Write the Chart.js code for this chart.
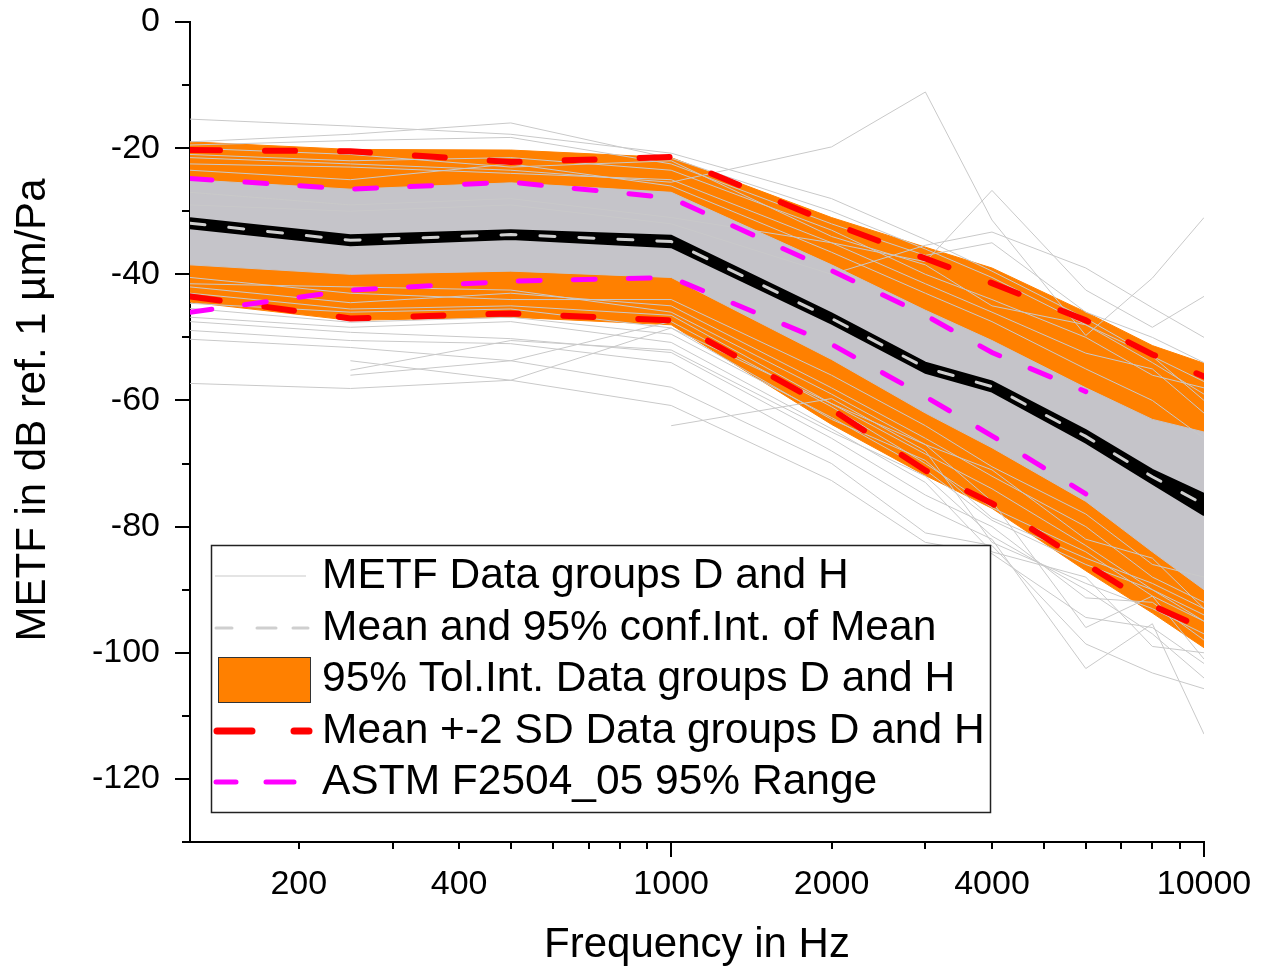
<!DOCTYPE html>
<html>
<head>
<meta charset="utf-8">
<title>METF Data groups D and H</title>
<script src="https://cdn.jsdelivr.net/npm/chart.js@4.4.1/dist/chart.umd.min.js"></script>
<style>
  html, body { margin: 0; padding: 0; background: #fff; }
  #wrap { position: relative; width: 1261px; height: 966px; }
</style>
</head>
<body>
<div id="wrap"><canvas id="metf-chart"></canvas></div>
<script>
// frequency bands (Hz)
const freqs = [125, 250, 500, 1000, 2000, 3000, 4000, 6000, 8000, 10000];

// mean and 95% confidence interval of the mean (dB)
const meanValues = [-31.9, -34.6, -33.7, -34.8, -47.0, -54.8, -57.8, -65.7, -72.1, -76.5];
const ciUpper    = [-31.1, -33.8, -33.0, -33.9, -46.2, -54.0, -57.0, -64.7, -71.0, -74.8];
const ciLower    = [-32.7, -35.4, -34.4, -35.7, -47.8, -55.6, -58.6, -66.7, -73.2, -78.2];

// 95% tolerance interval
const tolUpper = [-19.0, -20.2, -20.3, -21.5, -31.0, -35.7, -39.0, -46.0, -51.3, -54.1];
const tolLower = [-44.4, -47.3, -46.8, -48.0, -63.8, -71.9, -77.1, -87.0, -93.7, -99.2];

// mean +-2 SD
const sdUpper = [-20.3, -20.5, -22.2, -21.4, -31.9, -37.5, -41.4, -47.3, -52.7, -56.2];
const sdLower = [-43.5, -47.0, -46.2, -47.3, -61.4, -71.1, -76.3, -85.9, -92.5, -96.2];

// ASTM F2504-05 95% range (ends at 6 kHz)
const astmUpper = [-24.8, -26.5, -25.4, -27.9, -39.4, -46.5, -52.4, -58.6, null, null];
const astmLower = [-46.0, -42.5, -41.1, -40.5, -51.1, -59.4, -65.6, -74.8, null, null];

// where the individual curves are so dense they merge into one grey area
const denseUpper = [-25.0, -26.5, -25.5, -27.0, -38.5, -45.7, -50.5, -58.0, -63.0, -65.0];
const denseLower = [-38.5, -40.0, -39.5, -40.5, -53.5, -62.0, -67.5, -76.0, -84.0, -90.0];

// individual METF curves that can be told apart
const metfCurves = [
  [-15.4, -16.5, -17.8, -20.8, -28.0, -34.5, -39.5, -47.0, -53.0, -57.0],
  [-19.0, -17.8, -16.0, -21.6, -30.0, -36.0, -40.5, -48.0, -54.0, -59.0],
  [-19.5, -18.8, -18.3, -22.5, -32.0, -37.0, -35.0, -46.0, -50.0, -54.0],
  [-21.5, -22.5, -23.5, -25.4, -19.8, -11.1, -31.4, -49.7, -40.6, -31.0],
  [-27.0, -29.0, -28.0, -31.0, -35.0, -38.0, -26.7, -42.5, -48.4, -43.5],
  [-29.0, -30.0, -29.0, -32.0, -40.0, -35.4, -33.3, -39.0, -45.3, -50.0],
  [-21.0, -22.0, -21.5, -23.5, -33.0, -40.0, -44.0, -50.0, -56.0, -58.0],
  [-22.5, -23.0, -24.0, -25.0, -35.0, -41.5, -46.0, -52.5, -55.0, -62.0],
  [-23.5, -25.0, -22.5, -26.0, -36.5, -43.0, -47.5, -55.0, -60.0, -66.0],
  [-20.0, -21.0, -23.0, -22.0, -34.0, -38.5, -45.0, -48.0, -53.0, -60.0],
  [-42.0, -44.5, -43.0, -45.0, -58.0, -66.0, -72.0, -80.0, -88.0, -92.0],
  [-43.0, -45.5, -45.0, -46.5, -60.5, -68.5, -74.0, -83.0, -90.0, -95.0],
  [-40.5, -43.0, -44.0, -44.0, -56.0, -64.0, -70.5, -78.0, -86.0, -88.0],
  [-41.5, -42.0, -42.5, -46.0, -59.0, -67.0, -71.0, -82.0, -85.0, -93.0],
  [-57.3, -58.1, -56.8, -60.8, -72.7, -82.5, -84.3, -94.4, -96.0, -101.7],
  [-50.3, -51.6, -53.7, -57.9, -70.0, -81.0, -83.0, -98.6, -103.2, -105.7],
  [-48.9, -50.5, -51.0, -54.0, -68.0, -77.0, -82.0, -102.5, -95.4, -112.9],
  [-47.5, -49.2, -50.2, -52.4, -66.0, -75.0, -80.0, -91.3, -92.0, -98.0],
  [-46.8, -48.4, -47.5, -50.8, -64.5, -73.0, -84.0, -88.0, -99.0, -100.0],
  [-45.4, -47.6, -46.8, -49.5, -62.7, -71.0, -79.0, -86.0, -90.0, -94.0],
  [-44.6, -46.0, -45.5, -48.5, -60.5, -67.0, -76.0, -96.0, -91.0, -101.0],
  [null, -53.7, -56.8, -48.5, -63.0, -69.5, -78.6, -85.0, -89.0, -93.0],
  [null, -55.2, -50.5, -52.0, -65.0, -72.0, -81.5, -90.0, -97.0, -104.0],
  [null, -56.0, -53.7, -47.5, -61.0, -70.0, -77.0, -84.0, -91.0, -95.0],
  [null, null, null, -64.0, -59.7, -68.0, -82.5, -89.0, -93.0, -97.0],
];

// axes
const xTickValues = [200, 300, 400, 500, 600, 700, 800, 900, 1000, 2000, 3000, 4000, 5000, 6000, 7000, 8000, 9000, 10000];
const xTickLabels = [200, 400, 1000, 2000, 4000, 10000];
const xMajorTicks = [1000, 10000];
const yMin = -130;
const yMax = 0;

const xTitle = 'Frequency in Hz';
const yTitle = 'METF in dB ref. 1 µm/Pa';
const legendLabels = [
  'METF Data groups D and H',
  'Mean and 95% conf.Int. of Mean',
  '95% Tol.Int. Data groups D and H',
  'Mean +-2 SD Data groups D and H',
  'ASTM F2504_05 95% Range',
];

const FONT = "'Liberation Sans', Arial, sans-serif";
const GREY_LINE = '#c9c9c9';
const DENSE_GREY = '#c5c4c9';
const ORANGE = '#ff8000';
const RED = '#ff0000';
const MAGENTA = '#ff00ff';

const pts = (vals) => freqs.map((f, i) => ({ x: f, y: vals[i] }));

const datasets = [];
function add(ds) {
  datasets.push(Object.assign({ pointRadius: 0, tension: 0, fill: false, spanGaps: false }, ds));
  return datasets.length - 1;
}

// lower "order" is drawn on top
add({ label: 'mean', data: pts(meanValues), borderColor: '#cfcfcf', borderWidth: 3,
      borderDash: [15, 24], borderCapStyle: 'round', order: 0 });
const ciLowIdx = add({ label: 'ci lower', data: pts(ciLower), borderColor: '#000', borderWidth: 2, order: 1 });
add({ label: 'ci upper', data: pts(ciUpper), borderColor: '#000', borderWidth: 2,
      backgroundColor: '#000', fill: ciLowIdx, order: 1 });
add({ label: 'astm upper', data: pts(astmUpper), borderColor: MAGENTA, borderWidth: 5,
      borderDash: [22, 33], borderCapStyle: 'round', order: 2 });
add({ label: 'astm lower', data: pts(astmLower), borderColor: MAGENTA, borderWidth: 5,
      borderDash: [22, 33], borderCapStyle: 'round', order: 2 });
add({ label: 'sd upper', data: pts(sdUpper), borderColor: RED, borderWidth: 6,
      borderDash: [30, 45], borderCapStyle: 'round', order: 3 });
add({ label: 'sd lower', data: pts(sdLower), borderColor: RED, borderWidth: 6,
      borderDash: [30, 45], borderCapStyle: 'round', order: 3 });
metfCurves.forEach((c, i) => {
  add({ label: 'metf ' + i, data: pts(c), borderColor: GREY_LINE, borderWidth: 1, order: 4 });
});
const denseLowIdx = add({ label: 'dense lower', data: pts(denseLower), borderColor: DENSE_GREY, borderWidth: 1, order: 5 });
add({ label: 'dense upper', data: pts(denseUpper), borderColor: DENSE_GREY, borderWidth: 1,
      backgroundColor: DENSE_GREY, fill: denseLowIdx, order: 5 });
const tolLowIdx = add({ label: 'tol lower', data: pts(tolLower), borderColor: ORANGE, borderWidth: 1, order: 6 });
add({ label: 'tol upper', data: pts(tolUpper), borderColor: ORANGE, borderWidth: 1,
      backgroundColor: ORANGE, fill: tolLowIdx, order: 6 });

// tick marks of two lengths and the axis titles
const axisDecor = {
  id: 'axisDecor',
  afterDraw(chart) {
    const { ctx, chartArea: a, scales: { x, y } } = chart;
    ctx.save();
    ctx.strokeStyle = '#000';
    ctx.lineWidth = 2;
    ctx.beginPath();
    xTickValues.forEach((v) => {
      const px = Math.round(x.getPixelForValue(v));
      const len = xMajorTicks.includes(v) ? 15 : 7;
      ctx.moveTo(px, a.bottom);
      ctx.lineTo(px, a.bottom + len);
    });
    for (let v = yMin; v <= yMax; v += 10) {
      const py = Math.round(y.getPixelForValue(v));
      const len = v % 20 === 0 ? 15 : 8;
      ctx.moveTo(a.left - len, py);
      ctx.lineTo(a.left, py);
    }
    ctx.stroke();

    ctx.fillStyle = '#000';
    ctx.font = '42px ' + FONT;
    ctx.textAlign = 'center';
    ctx.textBaseline = 'middle';
    ctx.fillText(xTitle, (a.left + a.right) / 2, 945);
    ctx.translate(33, 410);
    ctx.rotate(-Math.PI / 2);
    ctx.fillText(yTitle, 0, 0);
    ctx.restore();
  },
};

// boxed legend inside the plot
const boxLegend = {
  id: 'boxLegend',
  afterDraw(chart) {
    const ctx = chart.ctx;
    const left = 211, top = 545, w = 779, h = 267;
    const rows = [576, 628, 679, 731, 782];
    ctx.save();
    ctx.fillStyle = '#fff';
    ctx.fillRect(left, top, w, h);
    ctx.strokeStyle = '#222';
    ctx.lineWidth = 1.5;
    ctx.strokeRect(left + 0.5, top + 0.5, w, h);

    const seg = (color, width, cap, parts, yy) => {
      ctx.strokeStyle = color;
      ctx.lineWidth = width;
      ctx.lineCap = cap;
      ctx.beginPath();
      parts.forEach(([x0, x1]) => { ctx.moveTo(x0, yy); ctx.lineTo(x1, yy); });
      ctx.stroke();
    };
    seg(GREY_LINE, 1, 'butt', [[215, 306]], rows[0]);
    seg('#cfcfcf', 3, 'round', [[216, 232], [257, 276], [293, 308]], rows[1]);
    ctx.fillStyle = ORANGE;
    ctx.fillRect(218, 657, 93, 46);
    ctx.strokeStyle = '#333';
    ctx.lineWidth = 1;
    ctx.strokeRect(218.5, 657.5, 92, 45);
    seg(RED, 7, 'round', [[217, 252], [294, 309]], rows[3]);
    seg(MAGENTA, 5, 'round', [[216, 236], [266, 294]], rows[4]);

    ctx.fillStyle = '#000';
    ctx.font = '42.5px ' + FONT;
    ctx.textAlign = 'left';
    ctx.textBaseline = 'middle';
    legendLabels.forEach((t, i) => ctx.fillText(t, 322, rows[i]));
    ctx.restore();
  },
};

new Chart(document.getElementById('metf-chart'), {
  type: 'line',
  data: { datasets },
  plugins: [axisDecor, boxLegend],
  options: {
    responsive: true,
    maintainAspectRatio: false,
    animation: false,
    events: [],
    layout: { padding: { left: 0, top: 22, right: 57, bottom: 0 } },
    plugins: {
      legend: { display: false },
      tooltip: { enabled: false },
      filler: { propagate: false },
    },
    scales: {
      x: {
        type: 'logarithmic',
        min: 125,
        max: 10000,
        z: 1,
        afterFit: (s) => { s.height = 124; s.paddingLeft = 0; s.paddingRight = 0; },
        afterBuildTicks: (s) => { s.ticks = xTickValues.map((v) => ({ value: v })); },
        grid: { display: true, drawOnChartArea: false, drawTicks: true, tickLength: 15, tickColor: 'rgba(0,0,0,0)' },
        border: { display: true, color: '#000', width: 2 },
        ticks: {
          autoSkip: false,
          maxRotation: 0,
          minRotation: 0,
          padding: 7,
          color: '#000',
          font: { family: FONT, size: 34 },
          callback: (v) => (xTickLabels.includes(v) ? String(v) : ''),
        },
      },
      y: {
        type: 'linear',
        min: yMin,
        max: yMax,
        z: 1,
        afterFit: (s) => { s.width = 190; s.paddingTop = 0; s.paddingBottom = 0; },
        grid: { display: true, drawOnChartArea: false, drawTicks: true, tickLength: 15, tickColor: 'rgba(0,0,0,0)' },
        border: { display: true, color: '#000', width: 2 },
        ticks: {
          stepSize: 10,
          padding: 15,
          color: '#000',
          font: { family: FONT, size: 34 },
          callback: (v) => (v % 20 === 0 ? String(v) : ''),
        },
      },
    },
  },
});
</script>
</body>
</html>
